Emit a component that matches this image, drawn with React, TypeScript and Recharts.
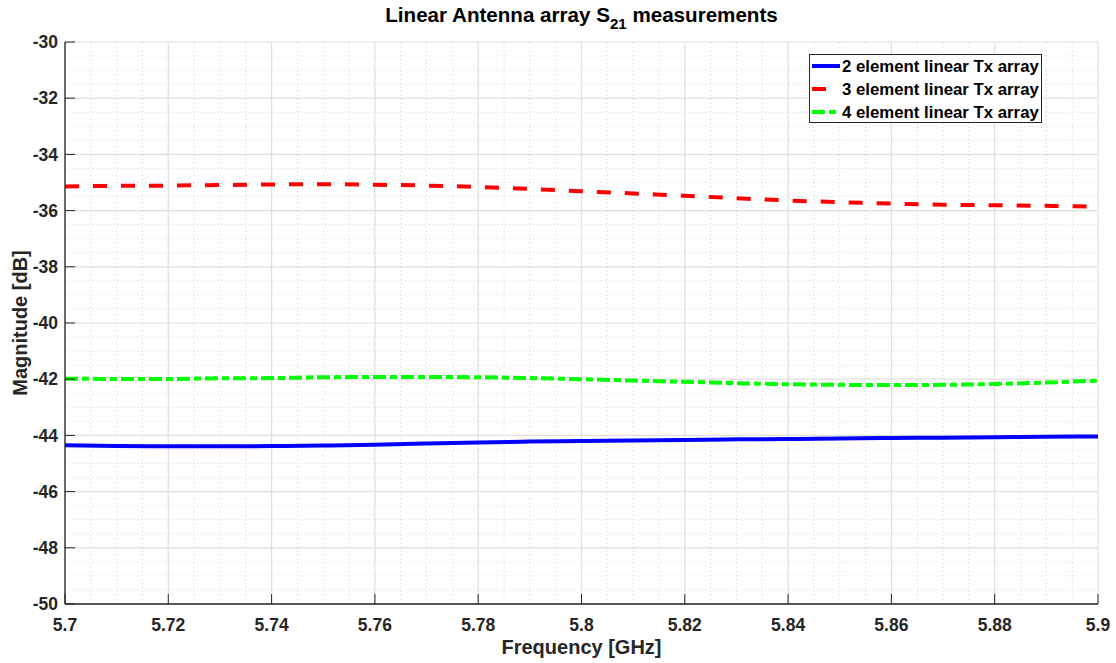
import React from "react";
import {
  CartesianGrid,
  Line,
  LineChart,
  ReferenceLine,
  XAxis,
  YAxis,
} from "recharts";

// frequency sweep, GHz
const freq = [
  5.7, 5.71, 5.72, 5.73, 5.74, 5.75, 5.76, 5.77, 5.78, 5.79, 5.8, 5.81, 5.82,
  5.83, 5.84, 5.85, 5.86, 5.87, 5.88, 5.89, 5.9,
];

// S21 magnitude, dB
const twoElement = [
  -44.35, -44.38, -44.39, -44.39, -44.38, -44.36, -44.33, -44.29, -44.25,
  -44.22, -44.2, -44.18, -44.16, -44.14, -44.13, -44.11, -44.09, -44.08,
  -44.07, -44.05, -44.04,
];
const threeElement = [
  -35.14, -35.12, -35.11, -35.09, -35.07, -35.06, -35.08, -35.11, -35.16,
  -35.23, -35.31, -35.39, -35.47, -35.56, -35.64, -35.7, -35.75, -35.79,
  -35.81, -35.83, -35.86,
];
const fourElement = [
  -41.98, -41.99, -41.99, -41.97, -41.96, -41.93, -41.92, -41.92, -41.93,
  -41.96, -42.0, -42.05, -42.09, -42.14, -42.18, -42.2, -42.21, -42.2, -42.17,
  -42.12, -42.05,
];

const xTicks = [5.7, 5.72, 5.74, 5.76, 5.78, 5.8, 5.82, 5.84, 5.86, 5.88, 5.9];
const yTicks = [-50, -48, -46, -44, -42, -40, -38, -36, -34, -32, -30];

const seriesNames = [
  "2 element linear Tx array",
  "3 element linear Tx array",
  "4 element linear Tx array",
];

const data = freq.map((f, i) => ({
  f,
  two: twoElement[i],
  three: threeElement[i],
  four: fourElement[i],
}));

// minor grid: 0.005 GHz and 0.5 dB steps between the major ticks
const xMinor: number[] = [];
for (let i = 1; i < 40; i++) if (i % 4 !== 0) xMinor.push(+(5.7 + i * 0.005).toFixed(3));
const yMinor: number[] = [];
for (let i = 1; i < 40; i++) if (i % 4 !== 0) yMinor.push(-50 + i * 0.5);

const FONT = "'Liberation Sans', Arial, Helvetica, sans-serif";
const AXIS = "#262626";
const TICK_LEN = 10;
const X_GAP = 15;
const Y_GAP = 7;

const tickText = {
  fontFamily: FONT,
  fontWeight: 700,
  fontSize: 17.5,
  fill: AXIS,
};

const BottomTick = ({ x, y, payload }: any) => (
  <g>
    <line x1={x} x2={x} y1={y - X_GAP} y2={y - X_GAP - TICK_LEN} stroke={AXIS} />
    <text x={x} y={y} dy="0.71em" textAnchor="middle" style={tickText}>
      {String(payload.value)}
    </text>
  </g>
);

const TopTick = ({ x, y }: any) => (
  <line x1={x} x2={x} y1={y} y2={y + TICK_LEN} stroke={AXIS} />
);

const LeftTick = ({ x, y, payload }: any) => (
  <g>
    <line x1={x + Y_GAP} x2={x + Y_GAP + TICK_LEN} y1={y} y2={y} stroke={AXIS} />
    <text x={x} y={y} dy="0.355em" textAnchor="end" style={tickText}>
      {String(payload.value)}
    </text>
  </g>
);

const RightTick = ({ x, y }: any) => (
  <line x1={x} x2={x - TICK_LEN} y1={y} y2={y} stroke={AXIS} />
);

const legendItems = [
  { name: seriesNames[0], color: "#0000ff", dash: undefined },
  { name: seriesNames[1], color: "#ff0000", dash: "14 14" },
  { name: seriesNames[2], color: "#00ff00", dash: "13 4 7 4" },
];

const App = () => {
  return (
    <div
      style={{
        position: "absolute",
        left: 0,
        top: 0,
        width: 1116,
        height: 663,
        background: "#fff",
        fontFamily: FONT,
      }}
    >
      <LineChart
        width={1116}
        height={663}
        data={data}
        margin={{ top: 42, right: 18, bottom: 0, left: 0 }}
      >
        {xMinor.map((v) => (
          <ReferenceLine
            key={"xm" + v}
            x={v}
            stroke="#d6d6d6"
            strokeDasharray="1 3"
          />
        ))}
        {yMinor.map((v) => (
          <ReferenceLine
            key={"ym" + v}
            y={v}
            stroke="#d6d6d6"
            strokeDasharray="1 3"
          />
        ))}
        <CartesianGrid stroke="#dfdfdf" strokeWidth={1.2} />
        <XAxis
          dataKey="f"
          type="number"
          domain={[5.7, 5.9]}
          ticks={xTicks}
          allowDataOverflow
          height={59}
          tickSize={0}
          tickMargin={X_GAP}
          tickLine={false}
          tick={<BottomTick />}
          stroke={AXIS}
          strokeWidth={1.3}
        />
        <XAxis
          xAxisId="top"
          orientation="top"
          dataKey="f"
          type="number"
          domain={[5.7, 5.9]}
          ticks={xTicks}
          height={0}
          tickSize={0}
          tickMargin={0}
          tickLine={false}
          tick={<TopTick />}
          stroke={AXIS}
          strokeWidth={1.3}
        />
        <YAxis
          type="number"
          domain={[-50, -30]}
          ticks={yTicks}
          allowDataOverflow
          width={65}
          tickSize={0}
          tickMargin={Y_GAP}
          tickLine={false}
          tick={<LeftTick />}
          stroke={AXIS}
          strokeWidth={1.3}
        />
        <YAxis
          yAxisId="right"
          orientation="right"
          type="number"
          domain={[-50, -30]}
          ticks={yTicks}
          width={0}
          tickSize={0}
          tickMargin={0}
          tickLine={false}
          tick={<RightTick />}
          stroke={AXIS}
          strokeWidth={1.3}
        />
        <Line
          type="monotone"
          dataKey="two"
          name={seriesNames[0]}
          stroke="#0000ff"
          strokeWidth={4}
          dot={false}
          activeDot={false}
          isAnimationActive={false}
        />
        <Line
          type="monotone"
          dataKey="three"
          name={seriesNames[1]}
          stroke="#ff0000"
          strokeWidth={4}
          strokeDasharray="14 14"
          dot={false}
          activeDot={false}
          isAnimationActive={false}
        />
        <Line
          type="monotone"
          dataKey="four"
          name={seriesNames[2]}
          stroke="#00ff00"
          strokeWidth={4}
          strokeDasharray="13 4 7 4"
          dot={false}
          activeDot={false}
          isAnimationActive={false}
        />
      </LineChart>

      {/* title */}
      <div
        style={{
          position: "absolute",
          left: 0,
          width: 1163,
          top: 3,
          textAlign: "center",
          fontWeight: 700,
          fontSize: 20.6,
          lineHeight: "24px",
          color: "#000",
          whiteSpace: "nowrap",
        }}
      >
        Linear Antenna array S
        <sub style={{ fontSize: 15, verticalAlign: -7, lineHeight: 0 }}>21</sub>{" "}
        measurements
      </div>

      {/* axis labels */}
      <div
        style={{
          position: "absolute",
          left: 0,
          width: 1163,
          top: 636,
          textAlign: "center",
          fontWeight: 700,
          fontSize: 20,
          color: AXIS,
        }}
      >
        Frequency [GHz]
      </div>
      <div
        style={{
          position: "absolute",
          left: 19.5,
          top: 323,
          transform: "translate(-50%, -50%) rotate(-90deg)",
          fontWeight: 700,
          fontSize: 20,
          color: AXIS,
          whiteSpace: "nowrap",
        }}
      >
        Magnitude [dB]
      </div>

      {/* legend */}
      <svg
        width={234}
        height={70}
        style={{ position: "absolute", left: 809, top: 54 }}
      >
        <rect x={0.5} y={0.5} width={232} height={68} fill="#fff" stroke={AXIS} />
        {legendItems.map((it, i) => {
          const cy = 12 + i * 23;
          return (
            <g key={it.name}>
              <line
                x1={3}
                x2={31}
                y1={cy}
                y2={cy}
                stroke={it.color}
                strokeWidth={4}
                strokeDasharray={it.dash}
              />
              <text
                x={33}
                y={cy}
                dy="0.36em"
                style={{ fontFamily: FONT, fontWeight: 700, fontSize: 16.8, fill: "#000" }}
              >
                {it.name}
              </text>
            </g>
          );
        })}
      </svg>
    </div>
  );
};

export default App;
